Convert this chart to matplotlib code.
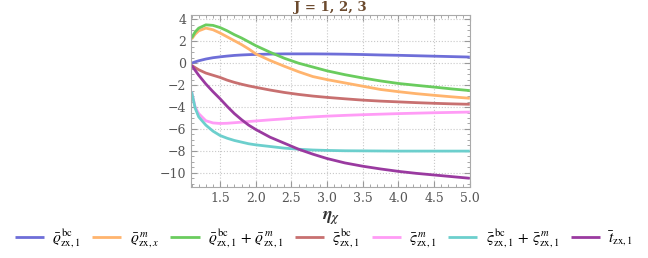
import matplotlib
matplotlib.use('Agg')
import matplotlib.pyplot as plt
from matplotlib.ticker import MultipleLocator
import numpy as np

plt.rcParams['font.family'] = ['DejaVu Serif']
plt.rcParams['mathtext.fontset'] = 'stix'

# values
eta = [1.1, 1.15, 1.2, 1.3, 1.4, 1.5, 1.6, 1.7, 1.8, 1.9, 2.0, 2.2, 2.4, 2.6,
       2.8, 3.0, 3.25, 3.5, 3.75, 4.0, 4.25, 4.5, 4.75, 5.0]

rho_bc = [0.0, 0.12, 0.22, 0.38, 0.5, 0.58, 0.65, 0.71, 0.75, 0.78, 0.8, 0.83,
          0.85, 0.85, 0.85, 0.84, 0.82, 0.79, 0.75, 0.72, 0.68, 0.64, 0.6, 0.56]
rho_m = [2.2, 2.65, 2.95, 3.2, 3.05, 2.75, 2.4, 2.05, 1.7, 1.3, 0.85, 0.25,
         -0.28, -0.78, -1.22, -1.5, -1.8, -2.1, -2.4, -2.6, -2.78, -2.93, -3.07, -3.2]
rho_sum = [2.3, 2.85, 3.2, 3.5, 3.45, 3.25, 2.95, 2.6, 2.3, 1.95, 1.6, 1.0,
           0.45, 0.0, -0.35, -0.7, -1.05, -1.35, -1.62, -1.85, -2.02, -2.18, -2.35, -2.5]
sig_bc = [-0.2, -0.4, -0.6, -0.9, -1.1, -1.3, -1.55, -1.75, -1.92, -2.07, -2.2, -2.45,
          -2.67, -2.85, -3.0, -3.12, -3.25, -3.37, -3.46, -3.53, -3.6, -3.66, -3.71, -3.75]
sig_m = [-2.6, -4.0, -4.6, -5.25, -5.45, -5.5, -5.48, -5.43, -5.38, -5.32, -5.27, -5.17,
         -5.08, -4.98, -4.9, -4.83, -4.76, -4.7, -4.65, -4.6, -4.56, -4.52, -4.49, -4.46]
sig_sum = [-2.6, -4.1, -4.9, -5.65, -6.2, -6.6, -6.85, -7.05, -7.2, -7.35, -7.45, -7.6,
           -7.75, -7.85, -7.92, -7.96, -7.99, -8.0, -8.01, -8.02, -8.02, -8.02, -8.02, -8.02]
t_bar = [-0.2, -0.65, -1.1, -1.9, -2.6, -3.25, -3.95, -4.6, -5.15, -5.65, -6.05, -6.75,
         -7.3, -7.85, -8.3, -8.7, -9.1, -9.4, -9.65, -9.87, -10.05, -10.2, -10.35, -10.5]

labels = [
    r'$\bar{\varrho}^{\,\mathrm{bc}}_{\mathrm{zx},1}$',
    r'$\bar{\varrho}^{\,m}_{\mathrm{zx},x}$',
    r'$\bar{\varrho}^{\,\mathrm{bc}}_{\mathrm{zx},1}\,+\,\bar{\varrho}^{\,m}_{\mathrm{zx},1}$',
    r'$\bar{\varsigma}^{\,\mathrm{bc}}_{\mathrm{zx},1}$',
    r'$\bar{\varsigma}^{\,m}_{\mathrm{zx},1}$',
    r'$\bar{\varsigma}^{\,\mathrm{bc}}_{\mathrm{zx},1}\,+\,\bar{\varsigma}^{\,m}_{\mathrm{zx},1}$',
    r'$\bar{t}_{\mathrm{zx},1}$',
]
colors = ['#6e6ed8', '#ffb46e', '#6acc5e', '#c87070', '#ff9cf6', '#6ccfcd', '#9a3aa0']
series = [rho_bc, rho_m, rho_sum, sig_bc, sig_m, sig_sum, t_bar]

fig = plt.figure(figsize=(6.48, 2.58), dpi=100)
ax = fig.add_axes([0.295, 0.275, 0.43, 0.667])

for ys, c, lab in zip(series, colors, labels):
    ax.plot(eta, ys, color=c, lw=2.0, label=lab, solid_capstyle='butt')

ax.set_xlim(1.094, 5.0)
ax.set_ylim(-11.3, 4.4)
ax.xaxis.set_minor_locator(MultipleLocator(0.1))
ax.yaxis.set_minor_locator(MultipleLocator(0.5))
ax.set_xticks([1.5, 2.0, 2.5, 3.0, 3.5, 4.0, 4.5, 5.0])
ax.set_yticks([4, 2, 0, -2, -4, -6, -8, -10])
ax.set_yticklabels(['4', '2', '0', '\u22122', '\u22124', '\u22126', '\u22128', '\u221210'])
ax.grid(True, which='major', color='#c8c8c8', ls=':', lw=0.8)
ax.tick_params(which='both', direction='in', top=True, right=True,
               colors='#999999', labelcolor='#555555', labelsize=9)
ax.tick_params(which='major', length=4)
ax.tick_params(which='minor', length=2)
for sp in ax.spines.values():
    sp.set_color('#aaaaaa')

fig.text(0.51, 1 - 8 / 258, 'J = 1, 2, 3', ha='center', va='center',
         fontsize=9.5, fontweight='bold', color='#6b4a2e')
ax.set_xlabel(r'$\boldsymbol{\eta}_{\boldsymbol{\chi}}$', fontsize=13, color='#333333', labelpad=3)

fig.legend(loc='lower center', bbox_to_anchor=(0.5, -0.01), ncol=7, frameon=False,
           fontsize=11, handlelength=1.9, handletextpad=0.55, columnspacing=0.75,
           borderpad=0.2)

fig.savefig('out.png', dpi=100)
